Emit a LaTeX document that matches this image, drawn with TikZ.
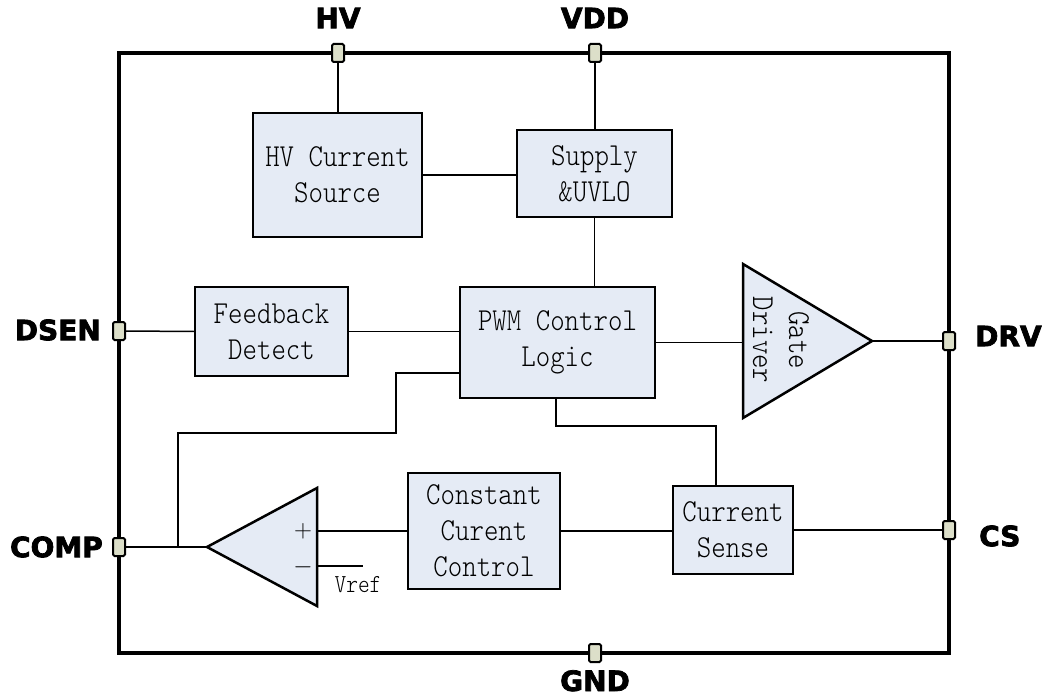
\documentclass[tikz,border=0pt]{standalone}
\usepackage{fontspec}
\newfontfamily\blkfont[FakeStretch=0.86]{lmmonolt10-regular.otf}
\newfontfamily\pinfont[BoldFeatures={FakeBold=2.6}]{DejaVu Sans}
\definecolor{blkfill}{HTML}{E5EBF5}
\definecolor{pinfill}{HTML}{DCDFC9}
\begin{document}
\begin{tikzpicture}[x=1pt,y=-1pt,
  blk/.style={draw, line width=2.5pt, fill=blkfill, align=center, inner sep=0pt,
    font=\blkfont\fontsize{32}{36}\selectfont},
  tri/.style={draw, line width=2.5pt, fill=blkfill, line join=miter},
  pin/.style={draw, line width=2pt, fill=pinfill, minimum width=12pt, minimum height=18pt,
    inner sep=0pt, rounded corners=1.5pt},
  lbl/.style={font=\pinfont\bfseries\fontsize{28}{30}\selectfont, inner sep=0pt},
  txt/.style={font=\blkfont\fontsize{32}{36}\selectfont, inner sep=0pt},
  wire/.style={line width=1.5pt}]
\useasboundingbox (0,0) rectangle (1042,698);

% frame
\draw[line width=4pt] (119,53) rectangle (949,653);

% pins
\node[pin] (hvpin) at (338,53) {};
\node[pin] (vddpin) at (595,53) {};
\node[pin] (dsenpin) at (119,331) {};
\node[pin] (drvpin) at (949,341) {};
\node[pin] (comppin) at (119,547) {};
\node[pin] (cspin) at (949,530) {};
\node[pin] (gndpin) at (595,653) {};

% pin labels
\node[lbl] (hvl) at (338,18) {HV};
\node[lbl] (vddl) at (595,18) {VDD};
\node[lbl, anchor=east] (dsenl) at (101,330) {DSEN};
\node[lbl, anchor=west] (drvl) at (975,336) {DRV};
\node[lbl, anchor=east] (compl) at (103,547) {COMP};
\node[lbl, anchor=west] (csl) at (979,536) {CS};
\node[lbl, anchor=base] (gndl) at (595,691) {GND};

% blocks
\node[blk, minimum width=169, minimum height=124] (hv) at (337.5,175) {HV Current\\Source};
\node[blk, minimum width=155, minimum height=87] (sup) at (594.5,173.5) {Supply\\\&UVLO};
\node[blk, minimum width=153, minimum height=89] (fb) at (271.5,331.5) {Feedback\\Detect};
\node[blk, minimum width=195, minimum height=111] (pwm) at (557.5,342.5) {PWM Control\\Logic};
\node[blk, minimum width=152, minimum height=116] (ccc) at (484,531) {Constant\\Curent\\Control};
\node[blk, minimum width=120, minimum height=88] (cs) at (733,530) {Current\\Sense};

% gate driver
\coordinate (gdt) at (743,264);
\coordinate (gdb) at (743,418);
\coordinate (gdtip) at (872,341);
\draw[tri] (gdt) -- (gdtip) -- (gdb) -- cycle;
\node[txt, rotate=-90, align=center] (gdtext) at (781,340) {Gate\\Driver};

% comparator
\coordinate (cmpt) at (317,488);
\coordinate (cmpb) at (317,606);
\coordinate (cmptip) at (207,547);
\draw[tri] (cmpt) -- (cmptip) -- (cmpb) -- cycle;
\node[font=\fontsize{26}{26}\selectfont, inner sep=0pt] (plus) at (303,531) {$+$};
\node[font=\fontsize{26}{26}\selectfont, inner sep=0pt] (minus) at (303,567) {$-$};
\coordinate (cmpplus) at (317,531);
\coordinate (cmpminus) at (317,566);
\coordinate (vrefend) at (363,566);
\node[txt, font=\blkfont\fontsize{26}{26}\selectfont] (vref) at (358,585) {Vref};

% wires
\draw[wire] (hvpin.south) -- (hvpin.south |- hv.north);
\draw[wire] (vddpin.south) -- (vddpin.south |- sup.north);
\draw[wire] (hv.east) -- (hv.east -| sup.west);
\draw[wire] (sup.south) -- (sup.south |- pwm.north);
\draw[wire] (dsenpin.east) -- (fb.west);
\draw[wire] (fb.east) -- (fb.east -| pwm.west);
\draw[wire] (pwm.east) -- (pwm.east -| gdt);
\draw[wire] (gdtip) -- (drvpin.west);
\coordinate (j1) at (396,373);
\coordinate (j2) at (396,433);
\coordinate (j3) at (178,433);
\coordinate (j4) at (178,547);
\draw[wire] (pwm.west |- j1) -- (j1) -- (j2) -- (j3) -- (j4);
\draw[wire] (comppin.east) -- (cmptip);
\coordinate (k1) at (556,426);
\coordinate (k2) at (716,426);
\draw[wire] (k1 |- pwm.south) -- (k1) -- (k2) -- (k2 |- cs.north);
\draw[wire] (cmpplus) -- (cmpplus -| ccc.west);
\draw[wire] (ccc.east) -- (ccc.east -| cs.west);
\draw[wire] (cs.east) -- (cspin.west);
\draw[wire] (cmpminus) -- (vrefend);
\end{tikzpicture}
\end{document}
